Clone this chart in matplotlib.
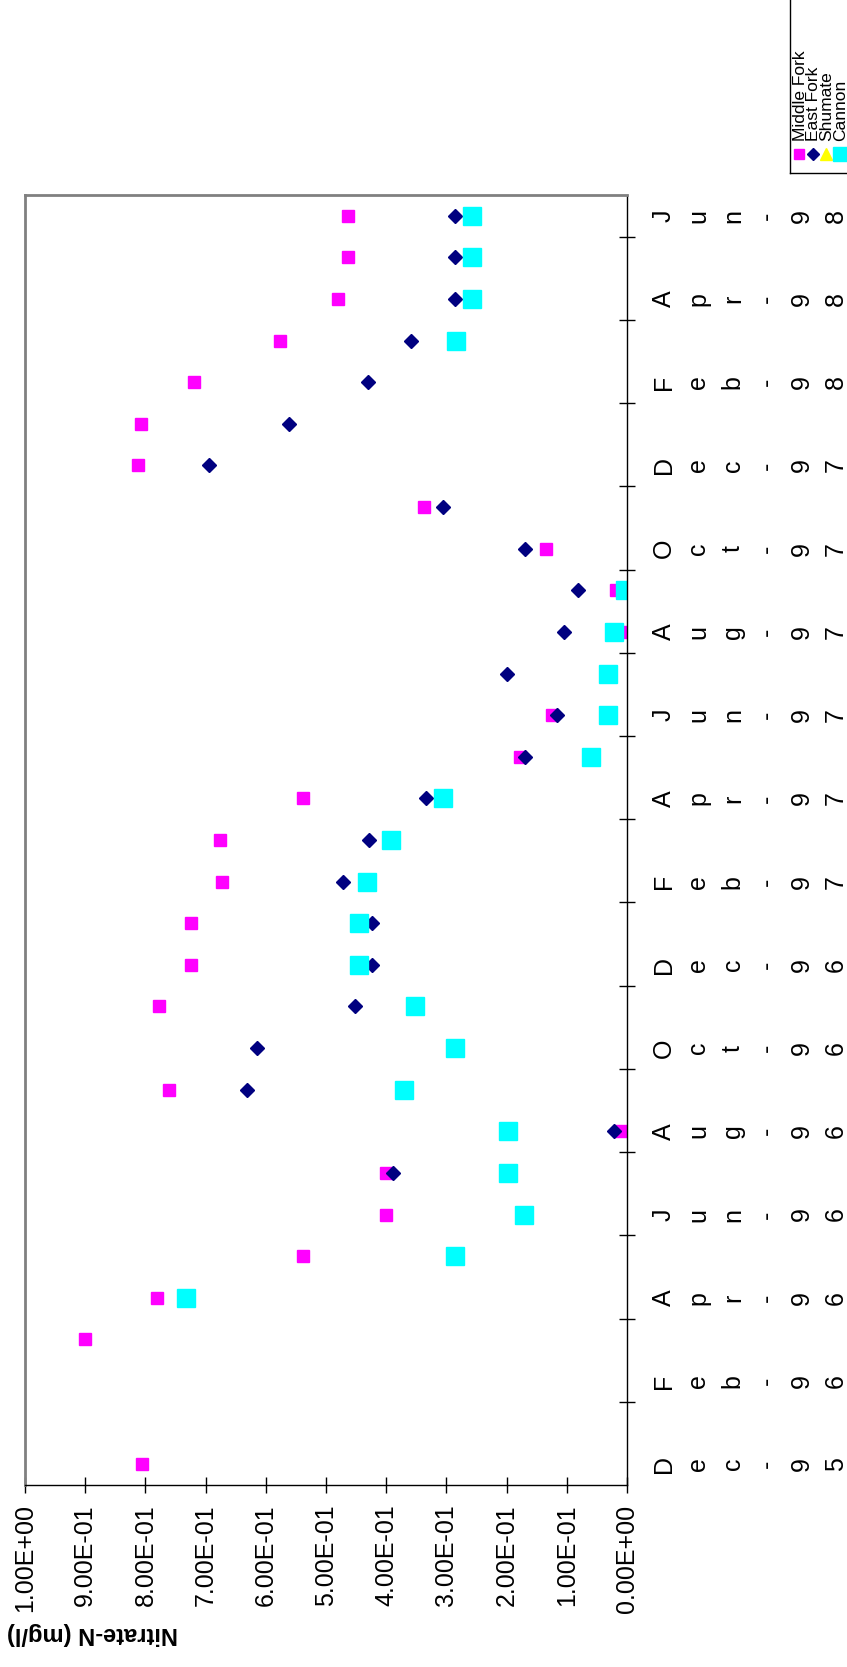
import numpy as np
import matplotlib
matplotlib.use('Agg')
import matplotlib.pyplot as plt

nan = np.nan

# monthly categories, Dec-95 .. Jun-98
months = ['Dec-95', 'Jan-96', 'Feb-96', 'Mar-96', 'Apr-96', 'May-96', 'Jun-96',
          'Jul-96', 'Aug-96', 'Sep-96', 'Oct-96', 'Nov-96', 'Dec-96', 'Jan-97',
          'Feb-97', 'Mar-97', 'Apr-97', 'May-97', 'Jun-97', 'Jul-97', 'Aug-97',
          'Sep-97', 'Oct-97', 'Nov-97', 'Dec-97', 'Jan-98', 'Feb-98', 'Mar-98',
          'Apr-98', 'May-98', 'Jun-98']

middle_fork = [0.805, nan, nan, 0.901, 0.781, 0.539, 0.400, 0.400, 0.010, 0.761,
               nan, 0.778, 0.725, 0.725, 0.672, 0.676, 0.539, 0.177, 0.125, 0.030,
               0.004, 0.018, 0.135, 0.337, 0.812, 0.808, 0.719, 0.576, 0.480,
               0.463, 0.463]
east_fork = [nan, nan, nan, nan, nan, nan, nan, 0.388, 0.021, 0.631,
             0.614, 0.451, 0.424, 0.424, 0.471, 0.428, 0.334, 0.169, 0.116, 0.200,
             0.104, 0.081, 0.169, 0.305, 0.694, 0.561, 0.431, 0.359, 0.286,
             0.286, 0.286]
shumate = [nan] * 31
cannon = [nan, nan, nan, nan, 0.732, 0.286, 0.171, 0.198, 0.198, 0.370,
          0.286, 0.352, 0.445, 0.445, 0.432, 0.392, 0.305, 0.060, 0.032, 0.032,
          0.021, 0.004, nan, nan, nan, nan, nan, 0.284, 0.257,
          0.257, 0.257]

series_names = ['Middle Fork', 'East Fork', 'Shumate', 'Cannon']

plt.rcParams['font.family'] = ['Liberation Sans', 'DejaVu Sans']

W, H = 847, 1667
fig = plt.figure(figsize=(W / 100, H / 100), dpi=100)
ax = fig.add_axes([25 / W, 1 - 1485 / H, (627 - 25) / W, (1485 - 195) / H])

pos = np.arange(len(months))
ax.plot(middle_fork, pos, ls='none', marker='s', ms=8.6, color='#FF00FF', mec='#FF00FF')
ax.plot(east_fork, pos, ls='none', marker='D', ms=7, color='#000080', mec='#000080')
ax.plot(shumate, pos, ls='none', marker='^', ms=9, color='#FFFF00', mec='#FFFF00')
ax.plot(cannon, pos, ls='none', marker='s', ms=13.5, color='#00FFFF', mec='#00FFFF')

ax.set_xlim(1, 0)
ax.set_ylim(-0.5, len(months) - 0.5)

# value axis (bottom, reversed)
vt = np.arange(0, 1.01, 0.1)
ax.set_xticks(vt)
ax.set_xticklabels(['%.2E' % v for v in vt], rotation=90, fontsize=18)
ax.tick_params(axis='x', direction='inout', length=12, width=1, pad=8)

# category axis (right side), one label every second month
ax.yaxis.tick_right()
ax.set_yticks(pos[::2])
ax.set_yticklabels(['\n'.join(list(m)) for m in months[::2]], fontsize=18)
ax.set_yticks(np.arange(1.5, len(months) - 1, 2), minor=True)
ax.tick_params(axis='y', which='major', length=0, pad=18)
ax.tick_params(axis='y', which='minor', direction='inout', length=12, width=1,
               right=True, left=False)
for t in ax.get_yticklabels():
    t.set_rotation(90)
    t.set_va('center')
    t.set_ha('left')
    t.set_multialignment('center')
    t.set_linespacing(1.55)

for s in ['left', 'top']:
    ax.spines[s].set_color('#808080')
    ax.spines[s].set_linewidth(2)
for s in ['right', 'bottom']:
    ax.spines[s].set_color('black')
    ax.spines[s].set_linewidth(1)

fig.text(93 / W, 1 - 1633 / H, 'Nitrate-N (mg/l)', rotation=180, fontsize=17,
         fontweight='bold', ha='center', va='center')

# legend, drawn rotated like the rest of the chart
lax = fig.add_axes([790 / W, 1 - 173 / H, 60 / W, 176 / H])
lax.set_xlim(0, 60)
lax.set_ylim(176, 0)
lax.set_xticks([])
lax.set_yticks([])
for s in lax.spines.values():
    s.set_linewidth(1)
    s.set_color('black')
leg_styles = [('s', 7, '#FF00FF'), ('D', 6, '#000080'), ('^', 8, '#FFFF00'), ('s', 10, '#00FFFF')]
for j, (name, (mk, ms, c)) in enumerate(zip(series_names, leg_styles)):
    xc = 9 + 13.5 * j
    lax.plot([xc], [157], ls='none', marker=mk, ms=ms, color=c, mec=c)
    lax.text(xc + 1, 144, name, rotation=90, ha='center', va='bottom', fontsize=12.5)

fig.savefig('out.png', dpi=100)
